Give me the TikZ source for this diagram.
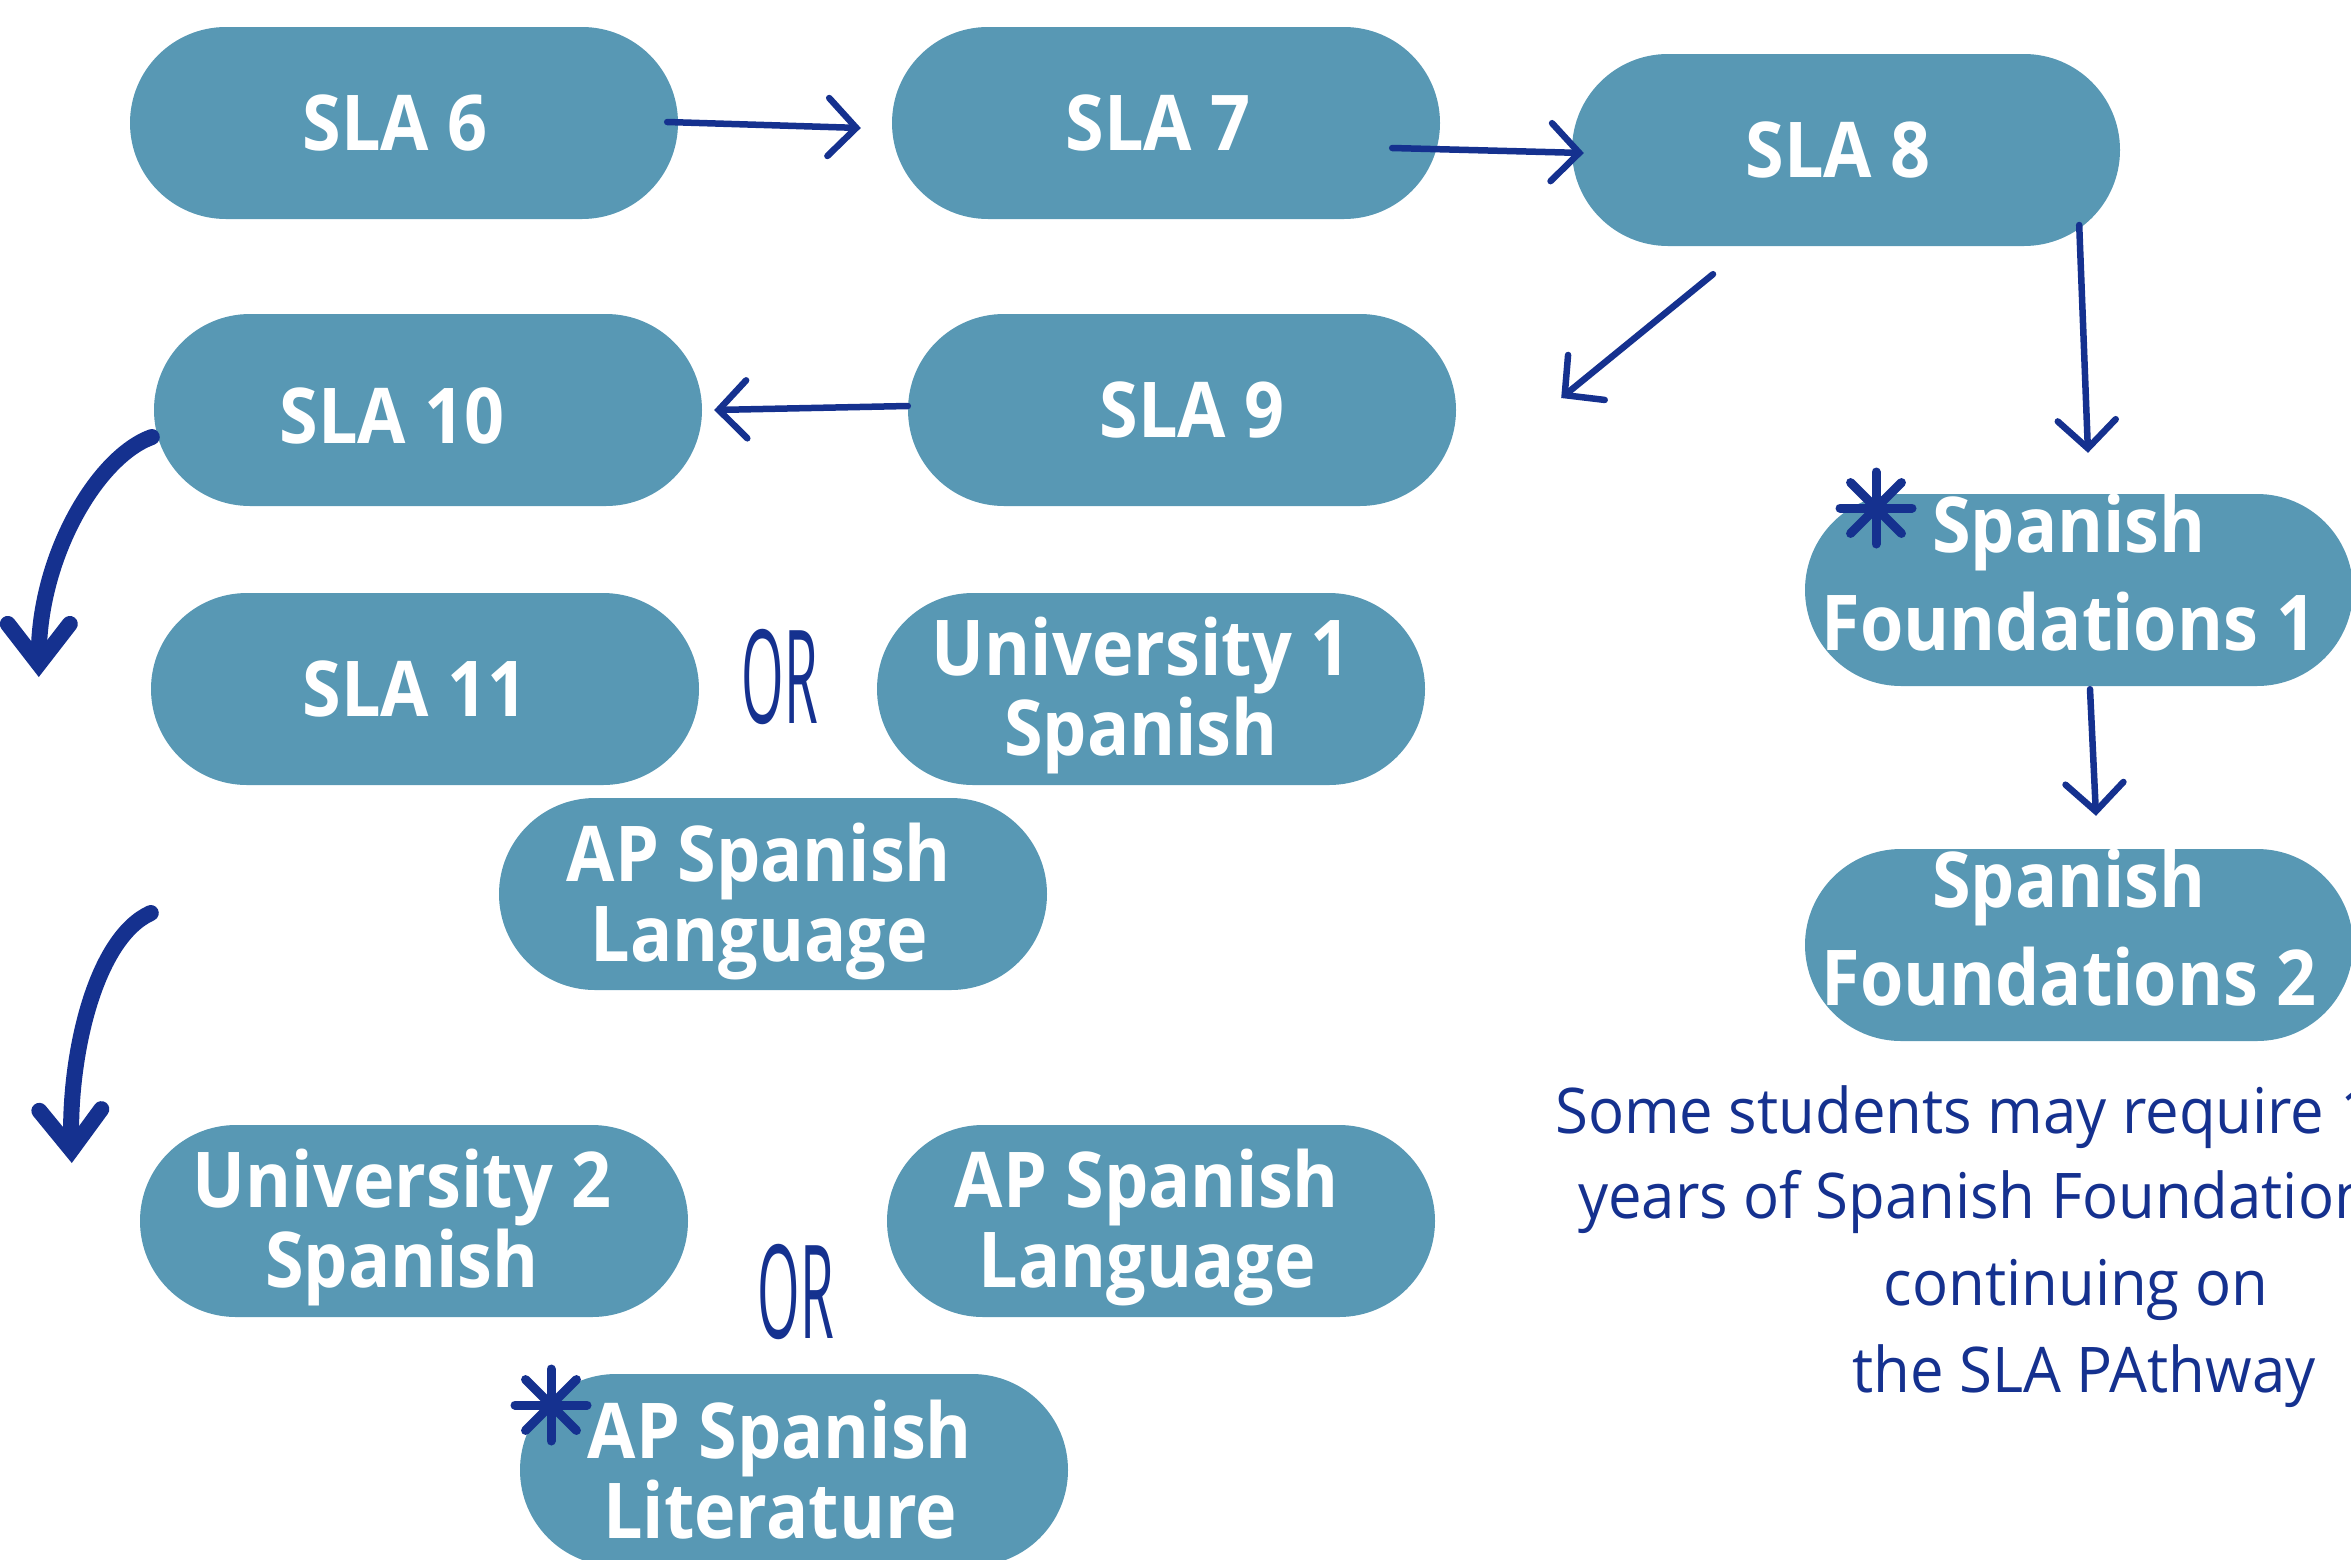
\documentclass[tikz,border=0pt]{standalone}
\usepackage{fontspec}
\setmainfont{Open Sans}
\newfontfamily\boxfont[FakeStretch=0.91]{Open Sans}
\newfontfamily\notefont[FakeStretch=0.95]{Open Sans}
\usetikzlibrary{shapes.misc,arrows.meta,calc}
\definecolor{teal}{HTML}{5898B4}
\definecolor{ink}{HTML}{15318F}
\tikzset{
  box/.style={rounded rectangle, fill=teal, draw=none, minimum width=548pt, minimum height=192pt,
    inner sep=0pt},
  boxtxt/.style={text=white, font=\boxfont\fontsize{77}{80}\selectfont\bfseries, align=center, inner sep=0pt},
  sftxt/.style={boxtxt, font=\boxfont\fontsize{77}{98}\selectfont\bfseries},
  thin arrow/.style={draw=ink, line width=6.5pt, line cap=round,
    -{Straight Barb[length=28pt,width=58pt,line cap=round]}},
  thick arrow/.style={draw=ink, line width=16pt, line cap=round,
    -{Straight Barb[length=40pt,width=62pt,line cap=round]}},
  ortxt/.style={text=ink, inner sep=0pt, anchor=base},
  note/.style={text=ink, inner sep=0pt, font=\notefont\fontsize{63}{86}\selectfont},
  starline/.style={draw=ink, line width=9pt, line cap=round}
}
\begin{document}
\begin{tikzpicture}[x=1pt,y=-1pt]
\useasboundingbox (0,0) rectangle (2351,1559);
\clip (0,0) rectangle (2351,1559);
% boxes
\node[box] (sla6) at (404,123) {};
\node[box] (sla7) at (1166,123) {};
\node[box] (sla8) at (1846,150) {};
\node[box] (sla10) at (428,410) {};
\node[box] (sla9) at (1182,410) {};
\node[box] (sla11) at (425,689) {};
\node[box] (uni1) at (1151,689) {};
\node[box] (ap1) at (773,894) {};
\node[box] (sf1) at (2079,590) {};
\node[box] (sf2) at (2079,945) {};
\node[box] (uni2) at (414,1221) {};
\node[box] (ap2) at (1161,1221) {};
\node[box] (aplit) at (794,1470) {};
% box texts
\node[boxtxt] (sla6t) at ($(sla6)+(-9,0)$) {SLA 6};
\node[boxtxt] (sla7t) at ($(sla7)+(-8,0)$) {SLA 7};
\node[boxtxt] (sla8t) at ($(sla8)+(-8,0)$) {SLA 8};
\node[boxtxt] (sla10t) at ($(sla10)+(-36,6)$) {SLA 10};
\node[boxtxt] (sla9t) at ($(sla9)+(10,0)$) {SLA 9};
\node[boxtxt] (sla11t) at ($(sla11)+(-10,0)$) {SLA 11};
\node[boxtxt] (uni1t) at ($(uni1)+(-10,6)$) {University 1\\Spanish};
\node[boxtxt] (ap1t) at ($(ap1)+(-14,7)$) {AP Spanish\\Language};
\node[sftxt] (sf1t) at ($(sf1)+(-10,-17)$) {Spanish\\Foundations 1};
\node[sftxt] (sf2t) at ($(sf2)+(-10,-17)$) {Spanish\\Foundations 2};
\node[boxtxt] (uni2t) at ($(uni2)+(-12,6)$) {University 2\\Spanish};
\node[boxtxt] (ap2t) at ($(ap2)+(-14,6)$) {AP Spanish\\Language};
\node[boxtxt] (aplitt) at ($(aplit)+(-14,0)$) {AP Spanish\\Literature};
% OR
\node[ortxt] (or1) at (780,723) {\scalebox{0.42}[1]{\fontsize{130}{130}\selectfont OR}};
\node[ortxt] (or2) at (796,1338) {\scalebox{0.42}[1]{\fontsize{130}{130}\selectfont OR}};
% stars
\coordinate (star1) at (1876,508);
\coordinate (star2) at (551,1405);
\foreach \c in {star1,star2}{
  \foreach \a in {0,45,...,315}{
    \draw[starline] (\c) -- ++(\a:36pt);
  }
}
% arrows
\draw[thin arrow] ($(sla6.east)+(-11,-1)$) -- ($(sla7.west)+(-31,5)$);
\draw[thin arrow] ($(sla7.east)+(-48,25)$) -- ($(sla8.west)+(12,3)$);
\draw[thin arrow] ($(sla8.south)+(-133,28)$) -- ($(sla9.east)+(105,-12)$);
\draw[thin arrow] ($(sla9.west)+(0,-4)$) -- ($(sla10.east)+(12,0)$);
\draw[thin arrow] ($(sla8.east)+(-41,75)$) -- ($(sf1.north)+(9,-41)$);
\draw[thin arrow] ($(sf1.south)+(11,3)$) -- ($(sf2.north)+(17,-33)$);
\draw[thick arrow] ($(sla10.west)+(-2,27)$) .. controls +(-55,20) and +(0,-120) .. ($(sla11.west)+(-112,-12)$);
\draw[thick arrow] ($(sla11.west)+(0,224)$) .. controls +(-55,25) and +(-3,-110) .. ($(uni2.west)+(-68,-58)$);
% note
\node[note, anchor=base west] (n1) at (1555,1133) {Some students may require 1};
\node[note, anchor=base west] (n2) at (1578,1218) {years of Spanish Foundation};
\node[note, anchor=base] (n3) at (2076,1305) {continuing on};
\node[note, anchor=base] (n4) at (2084,1392) {the SLA PAthway};
\end{tikzpicture}
\end{document}
